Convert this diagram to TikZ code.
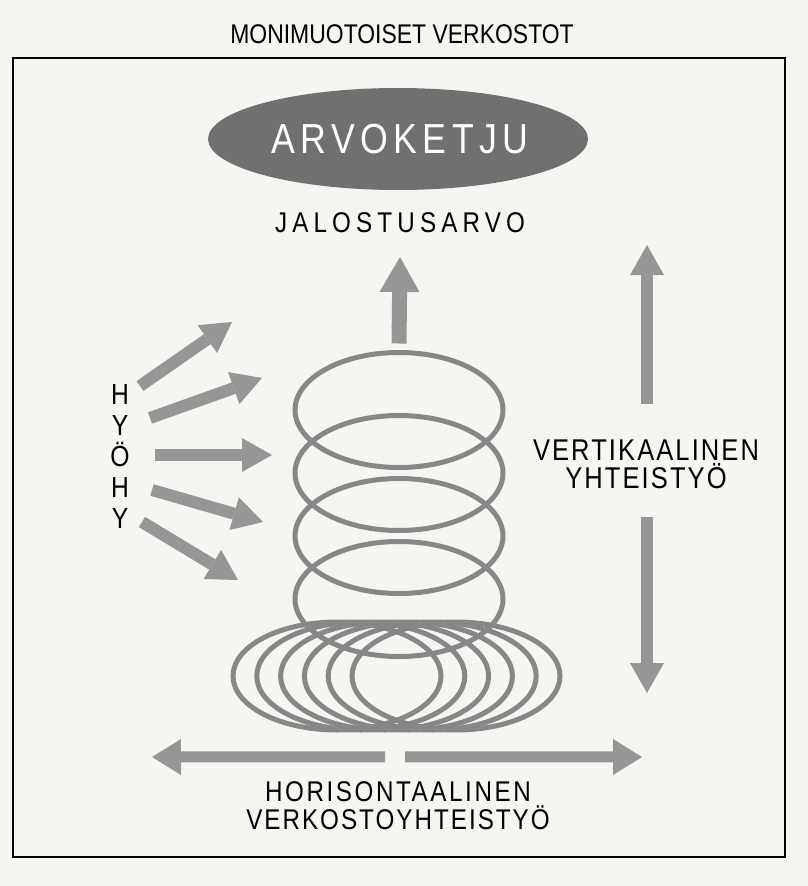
\documentclass[tikz,border=0pt]{standalone}
\usepackage{fontspec}
\usetikzlibrary{arrows.meta,shapes.geometric}

\newfontfamily\figfont[FakeStretch=0.85]{Liberation Sans}
\newcommand{\lblfont}[2]{\figfont\fontsize{#1}{#1}\selectfont\addfontfeature{LetterSpace=#2}}

\definecolor{paper}{RGB}{246,245,241}
\definecolor{ringgray}{RGB}{135,135,135}
\definecolor{arrowgray}{RGB}{150,150,150}
\definecolor{ovalgray}{RGB}{112,112,112}

\tikzset{
  lbl/.style={anchor=base,inner sep=0pt},
  ring/.style={draw=ringgray,line width=5pt},
  coil/.style={ring,ellipse,minimum width=208pt,minimum height=115pt,inner sep=0pt,outer sep=0pt},
  bigarrow/.style={draw=arrowgray,line width=15pt,-{Triangle[length=35pt,width=40pt,line width=0pt]}},
  sidearrow/.style={draw=arrowgray,line width=12pt,-{Triangle[length=30pt,width=34pt,line width=0pt]}},
  flatarrow/.style={draw=arrowgray,line width=11pt,-{Triangle[length=29pt,width=36pt,line width=0pt]}}
}

\begin{document}
\begin{tikzpicture}[x=1pt,y=-1pt]
\useasboundingbox (0,0) rectangle (808,886);
\fill[paper] (0,0) rectangle (808,886);

% title and frame
\node[lbl,font={\lblfont{27}{0}}] (title) at (402,43) {MONIMUOTOISET VERKOSTOT};
\draw[line width=1.3pt] (13,58) rectangle (785,857);

% value chain
\node[ellipse,fill=ovalgray,minimum width=380pt,minimum height=102pt,inner sep=0pt,
      text=white,font={\lblfont{42}{13}}] (chain) at (398,139) {\hspace*{4pt}ARVOKETJU};
\node[lbl,font={\lblfont{28.5}{18}}] (jalo) at (400,232) {JALOSTUSARVO};

% coil
\foreach \i in {0,...,3}
  \node[coil] (ring\i) at (399,410+63*\i) {};
\foreach \i in {0,...,5}
  \draw[ring] (337+23.8*\i,676) ellipse [x radius=104, y radius=54];

\draw[bigarrow] ([yshift=9pt]ring0.north) -- ([yshift=-25pt]jalo.base);

% HYÖHY
\foreach \ch [count=\i from 0] in {H,Y,Ö,H,Y}
  \node[lbl,font={\lblfont{29}{0}}] (hy\i) at (120,404+31*\i) {\ch};
\foreach \a/\b/\c/\d [count=\i] in {140/386/232/322, 150/418/262/378, 155/455/272/455,
                                   152/490/263/522, 142/522/238/580}{
  \coordinate (in\i) at (\a,\b);
  \coordinate (out\i) at (\c,\d);
  \draw[sidearrow] (in\i) -- (out\i);
}

% vertical
\node[lbl,font={\lblfont{30}{7}}] (vert1) at (646,460) {VERTIKAALINEN};
\node[lbl,font={\lblfont{30}{7}}] (vert2) at (646,488) {YHTEISTYÖ};
\coordinate (vtop) at (647,245);
\coordinate (vbot) at (647,693);
\draw[sidearrow] ([xshift=1pt,yshift=35pt]vert1.north) -- (vtop);
\draw[sidearrow] ([xshift=1pt,yshift=-29pt]vert2.base) -- (vbot);

% horizontal
\node[lbl,font={\lblfont{28.5}{9}}] (hor1) at (398,801) {HORISONTAALINEN};
\node[lbl,font={\lblfont{28.5}{7}}] (hor2) at (398,829) {VERKOSTOYHTEISTYÖ};
\coordinate (hleft) at (152,757);
\coordinate (hright) at (642,757);
\draw[flatarrow] ([xshift=-13pt,yshift=24pt]hor1.north) -- (hleft);
\draw[flatarrow] ([xshift=7pt,yshift=24pt]hor1.north) -- (hright);
\end{tikzpicture}
\end{document}
